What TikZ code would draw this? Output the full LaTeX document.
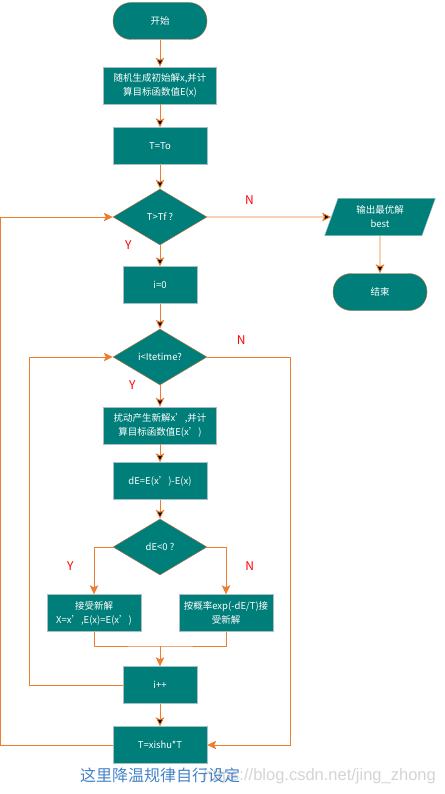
\documentclass[tikz,border=0pt]{standalone}
\usepackage{fontspec}
\newfontfamily\cjk{Noto Sans CJK SC}
\newfontfamily\wmfont{Liberation Sans}
\usetikzlibrary{arrows.meta,positioning,shapes.geometric}
\definecolor{boxteal}{RGB}{0,126,122}
\definecolor{lineorange}{RGB}{237,125,49}
\definecolor{edgebrown}{RGB}{196,116,62}
\definecolor{edgegray}{RGB}{170,188,198}
\definecolor{capblue}{RGB}{68,130,200}
\tikzstyle{process}=[draw=edgegray, fill=boxteal, text=white, align=center, minimum width=94pt, minimum height=37pt, inner sep=2pt]
\tikzstyle{terminal}=[draw=edgebrown, fill=boxteal, text=white, rounded corners=18pt, minimum width=94pt, minimum height=37pt]
\tikzstyle{decision}=[diamond, draw=edgebrown, fill=boxteal, text=white, minimum width=94pt, minimum height=56pt, inner sep=0pt]
\tikzstyle{io}=[trapezium, trapezium left angle=72, trapezium right angle=108, trapezium stretches=true, draw=edgegray, fill=boxteal, text=white, align=center, minimum width=111pt, minimum height=37pt, inner sep=1pt]
\tikzstyle{yn}=[text=red, font=\cjk\fontsize{12}{12}\selectfont, inner sep=0pt]
\tikzstyle{link}=[draw=lineorange, line width=0.9pt]

\begin{document}
\begin{tikzpicture}[x=1pt,y=-1pt,>={Stealth[length=9pt,width=8.5pt,inset=2pt]},font=\cjk\fontsize{9.5}{14}\selectfont]
    \useasboundingbox (0,0) rectangle (444,794);
    \node [terminal] (start) at (160,21) {开始};
    \node [process, minimum width=113pt] (init) [below of=start, node distance=64.5pt] {随机生成初始解x,并计\\算目标函数值E(x)};
    \node [process] (t0) [below of=init, node distance=60.5pt] {T=To};
    \node [decision] (outer) [below of=t0, node distance=71pt] {T>Tf ?};
    \node [process, minimum width=74pt] (i0) [below of=outer, node distance=68pt] {i=0};
    \node [decision] (inner) [below of=i0, node distance=72pt] {i<Itetime?};
    \node [process, minimum width=113pt] (newx) [below of=inner, node distance=68.5pt] {扰动产生新解x’,并计\\算目标函数值E(x’)};
    \node [process] (de) [below of=newx, node distance=55.5pt] {dE=E(x’)-E(x)};
    \node [decision] (test) [below of=de, node distance=66pt] {dE<0 ?};
    \node [process] (accept) [below of=test, node distance=66pt, xshift=-66pt] {接受新解\\X=x’,E(x)=E(x’)};
    \node [process] (prob) [below of=test, node distance=66pt, xshift=66pt] {按概率exp(-dE/T)接\\受新解};
    \node [process, minimum width=74pt] (inc) [below of=test, node distance=138pt] {i++};
    \node [process] (cool) [below of=inc, node distance=60pt] {T=xishu*T};
    \coordinate [above of=inc, node distance=39pt] (join);
    \node [io] (out) [right of=outer, node distance=220pt] {输出最优解\\best};
    \node [terminal] (stop) [below of=out, node distance=75pt] {结束};
    \node [text=black!17, font=\wmfont\fontsize{16.5}{16.5}\selectfont, anchor=east, inner sep=0pt] (mark) at (436,776) {https://blog.csdn.net/jing\_zhong};
    \node [text=capblue, font=\cjk\fontsize{16}{16}\selectfont, inner sep=0pt] (note) [below=4pt of cool] {这里降温规律自行设定};

    \path [link,->]
    (start) edge (init)
    (init) edge (t0)
    (t0) edge (outer)
    (outer) edge node [yn, pos=0, left=28pt] {Y} (i0)
    (outer) edge node [yn, pos=0.34, above=12pt] {N} (out)
    (out) edge (stop)
    (i0) edge (inner)
    (inner) edge node [yn, pos=0, left=24pt] {Y} (newx)
    (newx) edge (de)
    (de) edge (test)
    (inc) edge (cool);
    \draw [link,->] (test.west) -| node [yn, pos=0.7, left=20pt] {Y} (accept.north);
    \draw [link,->] (test.east) -| node [yn, pos=0.7, right=19pt] {N} (prob.north);
    \draw [link] (accept.south) |- (join) -| (prob.south);
    \draw [link,->] (join) -- (inc);
    % loops back
    \draw [link,->] (inc.west) -- ++(-93,0) |- (inner.west);
    \draw [link,->] (inner.east) -- node [yn, pos=0.41, above=12pt] {N} ++(83,0) |- (cool.east);
    \draw [link,->] (cool.west) -- ++(-112,0) |- (outer.west);
\end{tikzpicture}
\end{document}
